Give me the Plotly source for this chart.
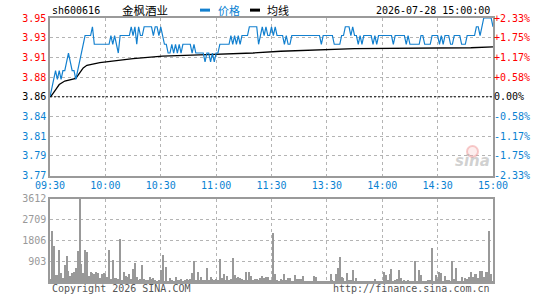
import plotly.graph_objects as go

# ---------------- data ----------------
STOCK_CODE = "sh600616"
STOCK_NAME = "金枫酒业"
DATE_TEXT = "2026-07-28 15:00:00"
PREV_CLOSE = 3.86
PRICE_SPAN = 0.09          # half range of price axis (±2.33%)

time_labels = ["09:30", "10:00", "10:30", "11:00", "11:30", "13:30", "14:00", "14:30", "15:00"]
time_label_pos = [0, 30, 60, 90, 120, 150, 180, 210, 240]

# axis labels as printed on the chart (bottom to top)
price_tick_labels = ["3.77", "3.79", "3.81", "3.84", "3.86", "3.88", "3.91", "3.93", "3.95"]
pct_tick_labels = ["-2.33%", "-1.75%", "-1.17%", "-0.58%", "0.00%", "+0.58%", "+1.17%", "+1.75%", "+2.33%"]

# minute-by-minute price (241 points, 09:30..11:30, 13:01..15:00)
price = [
    3.86, 3.87, 3.88, 3.89, 3.88, 3.89, 3.88, 3.89, 3.89, 3.90,
    3.91, 3.90, 3.89, 3.89, 3.88, 3.89, 3.90, 3.91, 3.92, 3.93,
    3.93, 3.93, 3.93, 3.94, 3.92, 3.92, 3.92, 3.92, 3.92, 3.92,
    3.92, 3.92, 3.92, 3.93, 3.92, 3.93, 3.92, 3.91, 3.93, 3.93,
    3.93, 3.93, 3.93, 3.93, 3.94, 3.93, 3.94, 3.92, 3.94, 3.93,
    3.93, 3.94, 3.94, 3.94, 3.94, 3.94, 3.93, 3.94, 3.94, 3.93,
    3.94, 3.93, 3.92, 3.92, 3.91, 3.91, 3.92, 3.91, 3.92, 3.91,
    3.92, 3.91, 3.92, 3.92, 3.92, 3.92, 3.92, 3.91, 3.92, 3.91,
    3.91, 3.91, 3.91, 3.91, 3.90, 3.91, 3.91, 3.90, 3.91, 3.90,
    3.91, 3.91, 3.92, 3.92, 3.92, 3.92, 3.92, 3.92, 3.93, 3.92,
    3.93, 3.92, 3.93, 3.92, 3.93, 3.93, 3.93, 3.93, 3.94, 3.94,
    3.94, 3.94, 3.94, 3.92, 3.93, 3.94, 3.93, 3.94, 3.93, 3.93,
    3.94, 3.93, 3.94, 3.93, 3.93, 3.93, 3.93, 3.92, 3.93, 3.92,
    3.92, 3.93, 3.93, 3.93, 3.93, 3.93, 3.93, 3.93, 3.93, 3.93,
    3.93, 3.93, 3.93, 3.93, 3.93, 3.93, 3.93, 3.92, 3.93, 3.93,
    3.93, 3.93, 3.93, 3.93, 3.92, 3.92, 3.92, 3.92, 3.93, 3.93,
    3.94, 3.94, 3.94, 3.93, 3.94, 3.93, 3.93, 3.92, 3.93, 3.92,
    3.93, 3.93, 3.93, 3.93, 3.93, 3.92, 3.93, 3.92, 3.93, 3.93,
    3.93, 3.93, 3.93, 3.93, 3.93, 3.93, 3.92, 3.93, 3.93, 3.93,
    3.93, 3.93, 3.93, 3.92, 3.93, 3.92, 3.92, 3.92, 3.92, 3.92,
    3.92, 3.93, 3.93, 3.92, 3.92, 3.92, 3.92, 3.93, 3.93, 3.93,
    3.93, 3.92, 3.93, 3.92, 3.93, 3.93, 3.93, 3.92, 3.92, 3.93,
    3.93, 3.93, 3.93, 3.92, 3.92, 3.92, 3.93, 3.93, 3.93, 3.93,
    3.93, 3.94, 3.94, 3.93, 3.94, 3.95, 3.95, 3.95, 3.95, 3.95,
    3.94,
]

# average price line, read at the points where it visibly changes
avg_minute = [0, 1, 3, 5, 8, 12, 14, 16, 18, 20, 27, 45, 61, 81, 99, 110, 125, 136, 165, 228, 240]
avg_price = [3.860, 3.862, 3.868, 3.874, 3.878, 3.880, 3.881, 3.887, 3.893, 3.896, 3.899,
             3.9035, 3.9065, 3.908, 3.909, 3.910, 3.912, 3.913, 3.915, 3.916, 3.917]

# minute volume (lots)
volume = [
    144, 2230, 1583, 331, 331, 1410, 403, 187, 763, 1151,
    504, 288, 403, 446, 619, 1353, 3612, 806, 403, 1410,
    1295, 259, 446, 403, 360, 446, 403, 187, 345, 403,
    374, 216, 1410, 158, 979, 187, 173, 144, 1871, 86,
    446, 259, 230, 360, 158, 576, 835, 230, 115, 144,
    748, 144, 115, 86, 230, 144, 187, 86, 58, 86,
    518, 1194, 58, 662, 43, 187, 86, 72, 230, 86,
    86, 144, 72, 86, 144, 86, 144, 403, 921, 86,
    446, 86, 230, 86, 86, 619, 86, 230, 144, 115,
    144, 86, 1007, 187, 360, 86, 288, 86, 144, 1050,
    331, 187, 230, 187, 144, 86, 446, 86, 446, 259,
    86, 144, 144, 86, 173, 259, 173, 230, 230, 115,
    86,
    2116, 372, 86, 57, 143, 86, 358, 86, 186, 186,
    57, 57, 315, 143, 143, 143, 272, 57, 57, 57,
    57, 57, 272, 229, 57, 57, 57, 57, 57, 57,
    57, 358, 86, 57, 358, 615, 1087, 229, 186, 57,
    400, 86, 86, 529, 57, 186, 57, 57, 57, 57,
    57, 57, 57, 57, 57, 143, 57, 57, 57, 57,
    443, 315, 86, 358, 572, 57, 86, 143, 529, 186,
    57, 86, 57, 86, 57, 57, 57, 901, 57, 529,
    315, 57, 57, 57, 86, 86, 1473, 57, 315, 143,
    443, 400, 57, 272, 86, 86, 57, 901, 143, 615,
    57, 57, 229, 57, 186, 143, 229, 443, 229, 358,
    358, 186, 486, 486, 229, 443, 443, 2203, 358, 57,
]
VOL_MAX = 3612
vol_ticks = [903, 1806, 2709, 3612]

minutes = list(range(len(price)))

# ---------------- styling ----------------
W, H = 545, 300
ML, MR, MT, MB = 50, 52, 18, 14
PW, PH = W - ML - MR, H - MT - MB
PRICE_TOP, PRICE_BOT = 18, 178
VOL_TOP, VOL_BOT = 201.5, 286

RED = "#ff0000"
BLUE = "#0a82d2"
LINE_BLUE = "#1380cf"
GRID = "#b4b4b4"
BORDER = "#9a9a9a"
MONO = "DejaVu Sans Mono, monospace"
CJK = "Noto Sans CJK SC, sans-serif"


def py(ypix):
    return (H - MB - ypix) / PH


def px(xpix):
    return (xpix - ML) / PW


n_half = (len(price_tick_labels) - 1) // 2
step = PRICE_SPAN / n_half
ptick_vals = [PREV_CLOSE + k * step for k in range(-n_half, n_half + 1)]


def colored(txt, k):
    if k == 0:
        c = "#000000"
    elif k > 0:
        c = RED
    else:
        c = BLUE
    return f'<span style="color:{c}">{txt}</span>'


ptick_text = [colored(t, k - n_half) for k, t in enumerate(price_tick_labels)]
pct_text = [colored(t, k - n_half) for k, t in enumerate(pct_tick_labels)]

fig = go.Figure()

fig.add_trace(go.Bar(x=minutes, y=volume, marker=dict(color="#999999", line=dict(width=0)),
                     width=0.55, xaxis="x2", yaxis="y3", showlegend=False))
fig.add_trace(go.Scatter(x=avg_minute, y=avg_price, mode="lines",
                         line=dict(color="#000000", width=1.3), xaxis="x", yaxis="y",
                         showlegend=False))
fig.add_trace(go.Scatter(x=minutes, y=price, mode="lines",
                         line=dict(color=LINE_BLUE, width=1.2), xaxis="x", yaxis="y",
                         showlegend=False))
# invisible trace to activate right percent axis
fig.add_trace(go.Scatter(x=[0], y=[PREV_CLOSE], mode="markers", marker=dict(opacity=0),
                         xaxis="x", yaxis="y2", showlegend=False, hoverinfo="skip"))

price_range = [PREV_CLOSE - PRICE_SPAN, PREV_CLOSE + PRICE_SPAN]
xr = [0, len(price) - 1]

common_x = dict(range=xr, tickvals=time_label_pos, showgrid=True, gridcolor=GRID,
                griddash="dot", gridwidth=1, zeroline=False, showline=True,
                linecolor=BORDER, linewidth=1.5, mirror=True, ticks="")

fig.update_layout(
    width=W, height=H,
    margin=dict(l=ML, r=MR, t=MT, b=MB),
    paper_bgcolor="white", plot_bgcolor="white",
    font=dict(family=MONO, size=10, color="#000000"),
    bargap=0,
    xaxis=dict(domain=[0, 1], anchor="y", ticktext=time_labels,
               tickfont=dict(family=MONO, size=10, color=BLUE), **common_x),
    xaxis2=dict(domain=[0, 1], anchor="y3", showticklabels=False, **common_x),
    yaxis=dict(domain=[py(PRICE_BOT), py(PRICE_TOP)], range=price_range,
               tickvals=ptick_vals, ticktext=ptick_text, tickfont=dict(family=MONO, size=10),
               showgrid=True, gridcolor=GRID, griddash="dot", zeroline=False,
               showline=True, linecolor=BORDER, linewidth=1.5, mirror=True, ticks=""),
    yaxis2=dict(overlaying="y", side="right", anchor="x", range=price_range,
                tickvals=ptick_vals, ticktext=pct_text, tickfont=dict(family=MONO, size=10),
                showgrid=False, zeroline=False, showline=False, ticks=""),
    yaxis3=dict(domain=[py(VOL_BOT), py(VOL_TOP)], range=[0, VOL_MAX], anchor="x2",
                tickvals=vol_ticks, ticktext=[str(v) for v in vol_ticks],
                tickfont=dict(family=MONO, size=10, color="#999999"),
                showgrid=True, gridcolor=GRID, griddash="dot", zeroline=False,
                showline=True, linecolor=BORDER, linewidth=1.5, mirror=True, ticks=""),
    hovermode=False,
)

# previous-close reference line
fig.add_shape(type="line", xref="x domain", yref="y", x0=0, x1=1, y0=PREV_CLOSE, y1=PREV_CLOSE,
              line=dict(color="#000000", width=1, dash="2px,2px"))

ann = []
ty = py(10)
ann.append(dict(text=STOCK_CODE, x=px(50), y=ty, xanchor="left", yanchor="middle",
                font=dict(family=MONO, size=10, color="#000000")))
ann.append(dict(text=STOCK_NAME, x=px(120), y=ty, xanchor="left", yanchor="middle",
                font=dict(family=CJK, size=11.5, color="#000000")))
ann.append(dict(text="价格", x=px(216), y=ty, xanchor="left", yanchor="middle",
                font=dict(family=CJK, size=11, color=BLUE)))
ann.append(dict(text="均线", x=px(265), y=ty, xanchor="left", yanchor="middle",
                font=dict(family=CJK, size=11, color="#000000")))
ann.append(dict(text=DATE_TEXT, x=px(492), y=ty, xanchor="right", yanchor="middle",
                font=dict(family=MONO, size=10, color="#000000")))
ann.append(dict(text="Copyright 2026 SINA.COM", x=px(50), y=py(292.5), xanchor="left",
                yanchor="middle", font=dict(family=MONO, size=10, color="#555555")))
ann.append(dict(text="http://finance.sina.com.cn", x=px(492), y=py(292.5), xanchor="right",
                yanchor="middle", font=dict(family=MONO, size=10, color="#555555")))
ann.append(dict(text="<b><i>sina</i></b>", x=px(472), y=py(163), xanchor="center",
                yanchor="middle", font=dict(family="DejaVu Sans, sans-serif", size=15,
                                            color="rgba(170,170,170,0.55)")))
for a in ann:
    a.update(xref="paper", yref="paper", showarrow=False)
fig.update_layout(annotations=ann)

# legend swatches
fig.add_shape(type="line", xref="paper", yref="paper", x0=px(200), x1=px(210), y0=ty, y1=ty,
              line=dict(color=LINE_BLUE, width=3))
fig.add_shape(type="line", xref="paper", yref="paper", x0=px(250), x1=px(260), y0=ty, y1=ty,
              line=dict(color="#000000", width=3))
# watermark eye
fig.add_shape(type="circle", xref="paper", yref="paper", x0=px(467), x1=px(478),
              y0=py(159), y1=py(148), line=dict(color="rgba(240,150,150,0.5)", width=2),
              fillcolor="rgba(250,200,200,0.3)")

fig.write_html("out.html")
